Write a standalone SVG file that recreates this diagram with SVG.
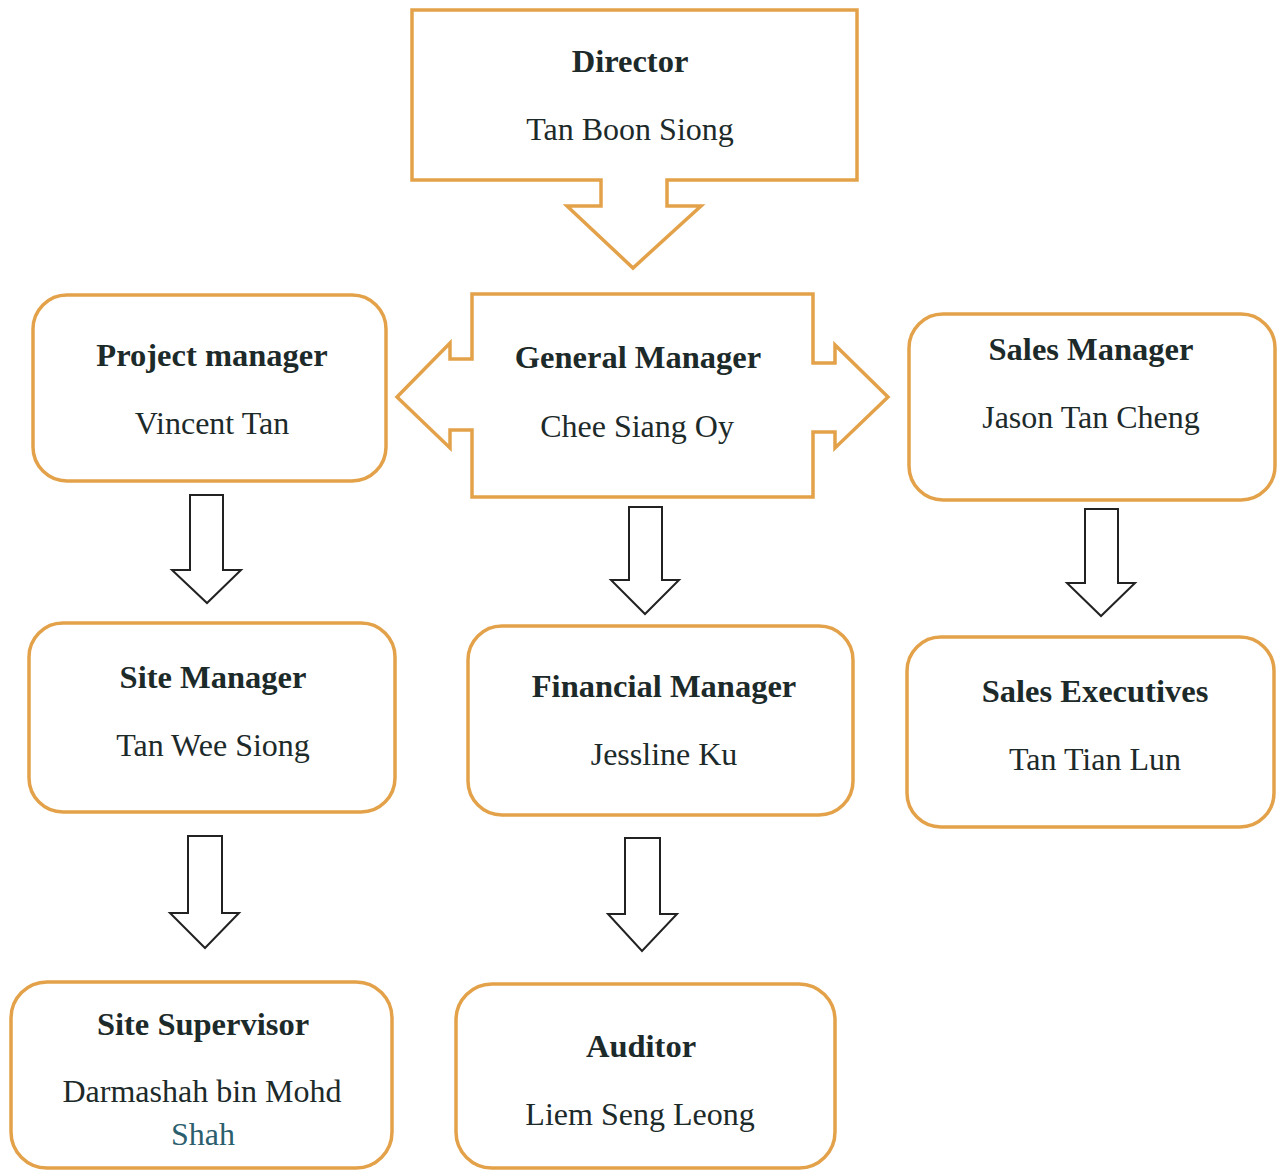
<svg xmlns="http://www.w3.org/2000/svg" width="1277" height="1171" viewBox="0 0 1277 1171">
<style>
.box{fill:#fff;stroke:#E3A24A;stroke-width:3.5;stroke-linejoin:miter}
.arr{fill:#fff;stroke:#222;stroke-width:2}
text{font-family:"Liberation Serif","Times New Roman",serif;fill:#1d2a2a;text-anchor:middle}
.t{font-weight:bold;font-size:32.5px}
.n{font-size:32px}
</style>
<rect width="1277" height="1171" fill="#fff"/>
<g id="director">
<path class="box" d="M412,10 H857 V180 H667 V206 H701 L633,268 L567,206 H601 V180 H412 Z"/>
<text class="t" x="630" y="72">Director</text>
<text class="n" x="630" y="140">Tan Boon Siong</text>
</g>
<g id="general-manager">
<path class="box" d="M472,294 H813 V363 H835 V345 L888,397 L835,448 V432 H813 V497 H472 V430 H450 V448 L397,397 L450,343 V359 H472 Z"/>
<text class="t" x="638" y="368">General Manager</text>
<text class="n" x="637" y="437">Chee Siang Oy</text>
</g>
<g id="project-manager">
<rect class="box" x="33" y="295" width="353" height="186" rx="34"/>
<text class="t" x="212" y="366">Project manager</text>
<text class="n" x="212" y="434">Vincent Tan</text>
</g>
<g id="sales-manager">
<rect class="box" x="909" y="314" width="366" height="186" rx="34"/>
<text class="t" x="1091" y="360">Sales Manager</text>
<text class="n" x="1091" y="428">Jason Tan Cheng</text>
</g>
<g id="site-manager">
<rect class="box" x="29" y="623" width="366" height="189" rx="34"/>
<text class="t" x="213" y="688">Site Manager</text>
<text class="n" x="213" y="756">Tan Wee Siong</text>
</g>
<g id="financial-manager">
<rect class="box" x="468" y="626" width="385" height="189" rx="34"/>
<text class="t" x="664" y="697">Financial Manager</text>
<text class="n" x="664" y="765">Jessline Ku</text>
</g>
<g id="sales-executives">
<rect class="box" x="907" y="637" width="367" height="190" rx="34"/>
<text class="t" x="1095" y="702">Sales Executives</text>
<text class="n" x="1095" y="770">Tan Tian Lun</text>
</g>
<g id="site-supervisor">
<rect class="box" x="11" y="982" width="381" height="186" rx="36"/>
<text class="t" x="203" y="1035">Site Supervisor</text>
<text class="n" x="202" y="1102">Darmashah bin Mohd</text>
<text class="n" x="203" y="1145" style="fill:#2c5f6e">Shah</text>
</g>
<g id="auditor">
<rect class="box" x="456" y="984" width="379" height="184" rx="36"/>
<text class="t" x="641" y="1057">Auditor</text>
<text class="n" x="640" y="1125">Liem Seng Leong</text>
</g>
<g id="connectors">
<path class="arr" d="M190,495 H223 V570 H241 L207,603 L172,570 H190 Z"/>
<path class="arr" d="M629,507 H662 V580 H679 L645,614 L611,580 H629 Z"/>
<path class="arr" d="M1085,509 H1118 V583 H1135 L1101,616 L1067,583 H1085 Z"/>
<path class="arr" d="M188,836 H222 V913 H239 L205,948 L170,913 H188 Z"/>
<path class="arr" d="M625,838 H660 V914 H677 L642,951 L608,914 H625 Z"/>
</g>
</svg>
